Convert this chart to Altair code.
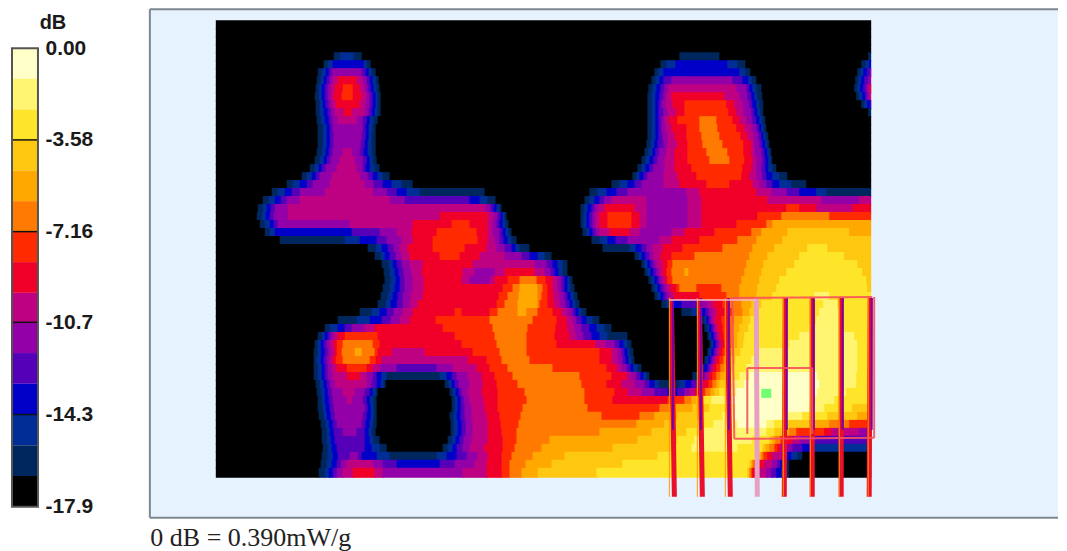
import altair as alt
import pandas as pd

# dB levels (top to bottom)
DB_EDGES = [0, -1.19, -2.39, -3.58, -4.77, -5.97, -7.16, -8.35, -9.55, -10.7, -11.9, -13.1, -14.3, -15.5, -16.7, -17.9]
DB_TICKS = [0, -3.58, -7.16, -10.7, -14.3, -17.9]
LEVELS = list("0123456789abcde")
COLORS = ["#FFFFC8", "#FFF570", "#FFE52A", "#FFC810", "#FFA800", "#FF7A00", "#FF2A00", "#F00028",
          "#BE0082", "#9400A8", "#5500B8", "#0000C8", "#002E96", "#00265E", "#000000"]

# One string per 8-unit-tall band of the scan: level + the x where this level ends
ROW_TOP = 20
ROW_STEP = 8
ROW_START_X = 216
ROW_END_X = 872
ROWS = [
"e872", "e872", "e872", "e872",
"e334 d340 c354 d362 e680 d720 e869 d872",
"e324 d328 c333 b364 c367 d371 e661 d667 c676 b728 c738 d746 e862 d866 c870 b872",
"e318 d322 c326 b329 a332 9362 a366 b369 c372 d376 e655 d659 c664 b740 c746 d751 e858 d861 c864 b868 a871 9872",
"e317 d321 c324 b327 a330 9333 8338 7357 8363 9367 a370 b373 c376 d379 e652 d656 c660 b664 a672 9733 a743 b749 c753 d757 e856 d859 c862 b865 a869 9872",
"e316 d319 c322 b325 a328 9331 8335 7343 6353 7360 8365 9368 a371 b374 c377 d380 e649 d653 c657 b661 a665 9669 8737 9747 a750 b753 c757 d762 e855 d858 c861 b864 a867 9869 8871 7872",
"e315 d319 c322 b325 a328 9331 8334 7342 6353 7362 8367 9370 a373 b376 c378 d381 e648 d652 c656 b660 a664 9667 8672 7725 8740 9748 a752 b755 c758 d763 e857 d860 c863 b866 a868 9870 8872",
"e316 d320 c323 b326 a329 9332 8336 7360 8366 9370 a373 b376 c378 d381 e648 d652 c656 b659 a662 9666 8673 7685 6727 7735 8743 9750 a753 b757 c760 d764 e862 d865 c868 b871 a872",
"e316 d320 c324 b328 a331 9335 8344 7352 8365 9369 a372 b375 c378 d381 e648 d652 c656 b659 a664 9668 8676 7685 6729 7737 8744 9752 a755 b758 c761 d764 e869 d872",
"e317 d321 c325 b329 a332 9338 8357 9363 a367 b370 c374 d378 e648 d652 c656 b659 a662 9665 8670 7678 6700 5717 6733 7740 8747 9753 a757 b760 c763 d766",
"e318 d323 c327 b330 a333 9363 a366 b369 c373 d376 e648 d652 c656 b659 a662 9666 8672 7687 6700 5718 6737 7745 8752 9757 a760 b762 c764 d767",
"e318 d323 c327 b330 a334 9362 a366 b369 c372 d376 e648 d652 c656 b659 a663 9668 8675 7687 6702 5720 6741 7748 8754 9759 a762 b764 c766 d769",
"e318 d323 c327 b330 a334 9361 a365 b368 c372 d376 e647 d651 c655 b658 a664 9668 8678 7688 6703 5723 6744 7752 8755 9760 a763 b766 c768 d770",
"e317 d322 c326 b329 a333 9343 8352 9360 a364 b368 c372 d376 e645 d649 c653 b656 a660 9667 8675 7688 6707 5728 6744 7752 8755 9762 a765 b768 c770 d772",
"e315 d320 c324 b327 a331 9340 8355 9363 a367 b370 c373 d377 e642 d646 c650 b654 a658 9665 8675 7688 6710 5730 6745 7753 8757 9763 a766 b769 c771 d773",
"e310 d315 c319 b322 a326 9337 8357 9363 a366 b370 c375 d380 e638 d642 c646 b650 a654 9665 8675 7692 6743 7752 8757 9762 a766 b769 c773 d777",
"e302 d307 c312 b316 a320 9332 8360 9368 a373 b378 c383 d390 e633 d637 c640 b644 a648 9664 8678 7697 6742 7750 8757 9763 a767 b773 c780 d788",
"e287 d293 c300 b307 a313 9330 8365 9374 a383 b392 c402 d413 e612 d620 c628 b635 a642 9664 8680 7707 6730 7753 8760 9767 a773 b780 c792 d807",
"e272 d278 c285 b292 a300 9325 8373 9387 a397 b407 c420 d485 e590 d598 c607 b617 a628 9687 8700 7757 8772 9787 a800 b817 c827 d872",
"e263 d269 c275 b281 a287 9300 8390 9405 a470 b480 c488 d496 e585 d590 c595 b600 a605 9612 8647 9688 8702 7768 8822 9860 8872",
"e258 d263 c267 b271 a275 9288 8486 9491 a494 b497 c500 d502 e581 d585 c588 b592 a595 9599 8605 7635 8647 9688 8702 7787 6800 7817 8853 7872",
"e257 d262 c266 b270 a274 9288 8440 7488 8494 9498 a501 b503 c505 d507 e581 d584 c587 b590 a593 9596 8600 7608 6632 7640 8647 9688 8702 7758 6782 5830 6872",
"e260 d265 c270 b274 a278 9350 8413 7452 6470 7488 8493 9497 a500 b503 c506 d509 e581 d584 c587 b590 a593 9596 8600 7608 6632 7640 8647 9688 8702 7737 6767 5773 4872",
"e265 d270 c275 b352 a380 9397 8412 7437 6477 7488 8493 9500 a503 b506 c509 d512 e583 d587 c590 b593 a596 9600 8610 7630 8640 9672 8685 7715 6752 5762 4788 3850 4872",
"e280 d345 c360 b377 a387 9402 8413 7433 6478 7488 8495 9500 a504 b508 c512 d517 e592 d600 c608 b616 a628 9660 8672 7700 6738 5757 4783 3872",
"e368 d376 c382 b388 a394 9400 8408 7433 6465 7487 8497 9505 a512 b516 c520 d530 e603 d630 c636 b642 a647 9653 8663 7683 6723 5753 4775 3808 2828 3872",
"e375 d381 c385 b390 a396 9402 8410 7440 6460 7480 8505 9522 a530 b538 c545 d552 e635 d639 c642 b646 a650 9654 8661 7672 6695 5750 4768 3800 2845 3872",
"e382 d389 c393 b397 a402 9410 8423 7473 8535 9547 a553 b558 c563 d568 e642 d645 c648 b651 a654 9657 8663 7668 6673 5747 4764 3795 2858 3872",
"e384 d390 c395 b399 a404 9412 8422 7463 8475 9495 8505 7535 8545 9551 a555 b559 c563 d568 e645 d648 c651 b654 a657 9660 8663 7667 6672 5685 4689 5745 4762 3787 2863 3872",
"e385 d391 c396 b400 a405 9413 8424 7462 8470 9490 8495 7508 6520 5537 6546 7553 8558 9562 a565 b568 c570 d573 e649 d652 c655 b658 a660 9663 8666 7668 6673 5742 4760 3780 2867 3872",
"e383 d390 c395 b400 a405 9413 8424 7503 6513 5520 4538 5543 6548 7553 8558 9562 a565 b568 c571 d575 e652 d655 c658 b661 a664 9667 8671 7677 6680 5697 6722 5740 4758 3777 2868 3872",
"e381 d388 c393 b398 a403 9411 8423 7499 6508 5519 4538 5542 6548 7554 8560 9565 a568 b571 c574 d578 e655 d658 c661 b664 a667 9670 8674 7700 6727 5740 4757 3773 2815 1830 2872",
"e378 d386 c391 b397 a403 9410 8418 7497 6505 5518 4538 5540 6548 7555 8561 9566 a570 b573 c576 d580 e662 d667 c672 b682 a700 9708 8714 7723 6730 5742 4752 3762 2824 1838 2872",
"e360 d372 c380 b387 a394 9403 8413 7455 6462 7490 6498 5518 4527 5538 6553 7562 8568 9573 a576 b579 c582 d587 e682 d692 c701 b706 a709 9713 8717 7725 6733 5743 4750 3758 2820 1840 2872",
"e338 d357 c370 b382 a391 9400 8410 7436 6490 5533 6557 7567 8573 9577 a582 b587 c593 d600 e702 d705 c707 b709 a711 9713 8716 7722 6727 5735 4743 3751 2817 1842 2872",
"e325 d330 c338 b345 a352 9365 8375 7443 6493 5528 6556 7568 8575 9582 a590 b597 c605 d612 e705 d708 c710 b712 a714 9716 8718 7723 6727 5733 4740 3749 2810 1845 2872",
"e318 d322 c325 b328 a331 9334 8338 7345 6378 7455 6495 5527 6555 7570 8577 9584 a592 b600 c608 d628 e708 d710 c712 b714 a716 9718 8720 7724 6728 5733 4738 3745 2800 1855 2872",
"e315 d318 c321 b324 a327 9330 8334 7337 6343 5373 6380 7462 6497 5527 6557 7596 8606 9615 a620 b624 c628 d632 e710 d712 c714 b716 a718 9720 8722 7725 6729 5733 4738 3744 2790 1858 2872",
"e314 d318 c321 b325 a328 9331 8335 7337 6342 5355 4362 5375 6378 7392 8425 7473 6500 5527 6600 7612 8618 9622 a625 b628 c630 d634 e708 d710 c712 b714 a716 9718 8720 7723 6727 5731 4735 3741 2757 1858 2872",
"e314 d317 c321 b324 a327 9330 8333 7336 6343 5370 6376 7382 8468 7487 6502 5530 6600 7612 8618 9623 a626 b629 c632 d635 e705 d707 c709 b711 a713 9715 8717 7720 6724 5728 4731 3736 2752 1858 2872",
"e314 d318 c322 b325 a328 9332 8337 7347 6367 7373 8380 9397 a437 9453 8477 7490 6508 5553 6607 7617 8622 9627 a631 b634 c638 d642 e698 d702 c705 b708 a710 9712 8714 7717 6721 5725 4728 3733 2747 1858 2872",
"e314 d318 c322 b325 a328 9333 8347 7360 8367 9373 a377 b382 c387 d440 c447 b452 a457 9468 8482 7495 6513 5580 6612 7627 8632 9637 a641 b644 c647 d650 e693 d697 c700 b703 a705 9707 8710 7713 6717 5721 4725 3729 2740 1750 0818 1857 2872",
"e316 d320 c324 b327 a330 9335 8367 9372 a377 b381 c384 d386 e445 d449 c452 b455 a459 9470 8483 7497 6518 5582 6607 7622 8635 9645 a650 b655 c660 d680 c686 b692 a697 9701 8705 7709 6713 5717 4720 3725 2733 1745 0820 1857 2872",
"e317 d321 c325 b328 a332 9343 8355 9365 a370 b373 c376 d378 e450 d453 c456 b459 a462 9468 8482 7498 6525 5585 6615 7628 8642 9655 a668 b678 a685 9690 8696 7701 6706 5711 4715 3720 2726 1737 0818 1847 2872",
"e318 d322 c325 b329 a333 9347 8352 9363 a367 b370 c374 d377 e452 d455 c458 b461 a464 9470 8484 7498 6527 5585 6613 7668 6685 5692 4697 3703 2712 1733 0813 1835 2872",
"e318 d323 c326 b330 a334 9365 a368 b371 c374 d377 e452 d455 c458 b461 a465 9472 8485 7498 6523 5588 6660 5675 4693 3710 2727 1736 0810 1825 2853 3872",
"e319 d324 c327 b331 a335 9363 a367 b371 c374 d377 e450 d454 c457 b461 a465 9472 8487 7500 6521 5602 6640 5655 4678 3702 2723 1735 0787 1803 2828 3858 4872",
"e321 d326 c329 b333 a337 9362 a366 b370 c373 d377 e451 d454 c458 b462 a466 9473 8488 7501 6519 5637 4665 3697 2714 1738 0767 1775 2788 3810 4830 5850 6872",
"e322 d327 c330 b334 a343 9357 a365 b369 c372 d376 e451 d454 c458 b462 a466 9473 8488 7502 6517 5600 4652 3687 2700 1767 2775 3785 4790 5797 6825 7832 8860 9872",
"e322 d327 c331 b335 a365 b370 c374 d380 e448 d452 c456 b460 a464 9472 8488 7503 6517 5550 4638 3678 2695 1753 2770 3773 4776 5781 6788 7793 8800 9810 a872",
"e323 d328 c332 b337 a365 b372 c380 d387 e443 d448 c453 b457 a463 9470 8485 7503 6515 5542 4613 3672 2692 1738 2763 3766 4770 5775 6778 7781 8785 9793 a803 b812 c872",
"e322 d328 c333 b338 a350 9358 a362 b377 c390 d437 c447 b457 a467 9478 8488 7502 6512 5533 4565 3658 2757 3760 4762 5764 6768 7773 8782 9785 a788 b792 c798 d803 e872",
"e321 d327 c332 b337 a341 9347 8373 9383 a397 b440 a455 9475 8487 7502 6510 5526 4552 3623 2750 3752 4753 5755 6758 7765 8773 9778 a781 b784 c787 d790 e872",
"e319 d325 c329 b333 a337 9343 8353 7375 8383 9463 8487 7502 6510 5522 4538 3597 2748 3750 5752 6753 7760 8767 9772 a777 b782 c786 d790 e872",
]
SCAN_BOTTOM = 478
SEAM_OVERLAP = 1

# Probe rods seen over the scan
ROD_TOP_X = [672, 700, 728, 757, 786, 813, 842, 871]
ROD_BOT_X = [675, 703, 731, 758, 785, 813, 842, 870]
ROD_COLOR = ["#E8102A", "#E8102A", "#E8102A", "#E8A0C0", "#E8102A", "#E8102A", "#E8102A", "#E8102A"]
ROD_TOP_Y = 298
ROD_BOT_Y = 497
ROD_SHADE_BOT_Y = 430

# Zoom-scan box edges (x, y, x2, y2)
BOX_X = [732, 875, 735, 733, 748, 748, 813]
BOX_Y = [298, 297, 439, 298, 368, 368, 368]
BOX_X2 = [873, 875, 875, 735, 813, 748, 813]
BOX_Y2 = [297, 438, 438, 439, 368, 434, 434]
FAINT_X = [670]
FAINT_Y = [300]
FAINT_X2 = [757]
FAINT_Y2 = [300]
PEAK_X, PEAK_X2, PEAK_Y, PEAK_Y2 = [762], [772], [389], [398]

# Panel extent and frame
PANEL_LEFT, PANEL_RIGHT, PANEL_TOP, PANEL_BOTTOM = 150, 1059, 9, 518

records = []
for j, row in enumerate(ROWS):
    start = ROW_START_X
    top = ROW_TOP + j * ROW_STEP
    last_row = j == len(ROWS) - 1
    bottom = SCAN_BOTTOM if last_row else top + ROW_STEP + SEAM_OVERLAP
    ends = [int(t[1:]) for t in row.split()]
    levels = [t[0] for t in row.split()]
    if ends[-1] < ROW_END_X:
        ends.append(ROW_END_X)
        levels.append("e")
    for end, lev in zip(ends, levels):
        x2 = end if end >= ROW_END_X else end + SEAM_OVERLAP
        records.append({"x": start, "x2": x2, "y": top, "y2": bottom, "level": lev})
        start = end
scan = pd.DataFrame(records)

rods = pd.DataFrame({"x": ROD_TOP_X, "x2": ROD_BOT_X, "c": ROD_COLOR, "y": ROD_TOP_Y, "y2": ROD_BOT_Y})
shade = rods[rods.c == "#E8102A"].copy()
shade_x = [v + 1.5 for v in shade.x]
shade["x"] = shade_x
shade["x2"] = shade_x
shade["y2"] = ROD_SHADE_BOT_Y
hilite = rods[rods.c == "#E8102A"].copy()
hilite_x = [v - 2 for v in hilite.x]
hilite["x"] = hilite_x
hilite["x2"] = hilite_x
box = pd.DataFrame({"x": BOX_X, "x2": BOX_X2, "y": BOX_Y, "y2": BOX_Y2})
faint = pd.DataFrame({"x": FAINT_X, "x2": FAINT_X2, "y": FAINT_Y, "y2": FAINT_Y2})
peak = pd.DataFrame({"x": PEAK_X, "x2": PEAK_X2, "y": PEAK_Y, "y2": PEAK_Y2})
frame = pd.DataFrame({"x": [PANEL_LEFT, PANEL_LEFT, PANEL_LEFT], "x2": [PANEL_LEFT, PANEL_RIGHT, PANEL_RIGHT],
                      "y": [PANEL_TOP, PANEL_TOP, PANEL_BOTTOM], "y2": [PANEL_BOTTOM, PANEL_TOP, PANEL_BOTTOM]})

xs = alt.Scale(domain=[PANEL_LEFT, PANEL_RIGHT], nice=False, zero=False)
ys = alt.Scale(domain=[PANEL_BOTTOM, PANEL_TOP], nice=False, zero=False)
color = alt.Color("level:N", scale=alt.Scale(domain=LEVELS, range=COLORS), legend=None)

X = alt.X("x:Q", scale=xs, axis=alt.Axis(title="0 dB = 0.390mW/g", domain=False, ticks=False, labels=False, grid=False,
                                         titleFont="Liberation Serif", titleFontSize=26, titleFontWeight="normal",
                                         titleColor="#222222", titleAnchor="start", titleAlign="left", titlePadding=7))
Y = alt.Y("y:Q", scale=ys, axis=None)

heat = alt.Chart(scan).mark_rect().encode(X, alt.X2("x2:Q"), Y, alt.Y2("y2:Q"), color=color)
segs = dict(x=alt.X("x:Q", scale=xs), x2="x2:Q", y=alt.Y("y:Q", scale=ys), y2="y2:Q")
rod_layer = alt.Chart(rods).mark_rule(strokeWidth=5).encode(color=alt.Color("c:N", scale=None), **segs)
shade_layer = alt.Chart(shade).mark_rule(strokeWidth=2, color="#7A00A0").encode(**segs)
hilite_layer = alt.Chart(hilite).mark_rule(strokeWidth=1, color="#FF9A00").encode(**segs)
box_layer = alt.Chart(box).mark_rule(strokeWidth=2, color="#F8505E", opacity=0.9).encode(**segs)
faint_layer = alt.Chart(faint).mark_rule(strokeWidth=1.5, color="#F8B8C8").encode(**segs)
peak_layer = alt.Chart(peak).mark_rect(color="#70FF70").encode(**segs)
frame_layer = alt.Chart(frame).mark_rule(strokeWidth=2, color="#7E878F").encode(**segs)

panel = alt.layer(heat, rod_layer, shade_layer, hilite_layer, box_layer, faint_layer, peak_layer, frame_layer).properties(
    width=PANEL_RIGHT - PANEL_LEFT, height=PANEL_BOTTOM - PANEL_TOP,
    view=alt.ViewBackground(fill="#E6F3FF", stroke=None),
)

# colour bar
bar = pd.DataFrame({"hi": DB_EDGES[:-1], "lo": DB_EDGES[1:], "level": LEVELS})
tick_df = pd.DataFrame({"v": DB_TICKS})
inner_df = tick_df[(tick_df.v != 0) & (tick_df.v != -17.9)]
cs = alt.Scale(domain=[-18.33, 1.52], nice=False, zero=False)
CB_LABEL = "datum.value == 0 ? '0.00' : '' + datum.value"
bar_rects = alt.Chart(bar).mark_rect().encode(
    x=alt.value(0), x2=alt.value(26),
    y=alt.Y("hi:Q", scale=cs, axis=alt.Axis(orient="right", title=None, values=DB_TICKS, labelExpr=CB_LABEL, domain=False,
                                            grid=False, ticks=False, labelPadding=7, labelOverlap=False,
                                            labelFont="Liberation Sans", labelFontWeight="bold", labelFontSize=21,
                                            labelColor="#1a1a1a", labelFlush=False)),
    y2="lo:Q", color=alt.Color("level:N", scale=alt.Scale(domain=LEVELS, range=COLORS), legend=None))
bar_lines = alt.Chart(inner_df).mark_rule(color="#111111", strokeWidth=1.5).encode(
    x=alt.value(0), x2=alt.value(26), y=alt.Y("v:Q", scale=cs))
bar_frame = alt.Chart(pd.DataFrame({"hi": [DB_TICKS[0]], "lo": [DB_TICKS[-1]]})).mark_rect(
    fillOpacity=0, stroke="#555555", strokeWidth=2).encode(
    x=alt.value(0), x2=alt.value(26), y=alt.Y("hi:Q", scale=cs), y2="lo:Q")
bar_title = alt.Chart(pd.DataFrame({"t": ["dB"], "v": [0.97]})).mark_text(
    font="Liberation Sans", fontWeight="bold", fontSize=20, color="#1a1a1a", align="center", baseline="middle").encode(
    x=alt.value(41), y=alt.Y("v:Q", scale=cs), text="t:N")
colorbar = alt.layer(bar_rects, bar_lines, bar_frame, bar_title).properties(
    width=26, height=PANEL_BOTTOM - PANEL_TOP, view=alt.ViewBackground(stroke=None))

chart = alt.hconcat(colorbar, panel, spacing=56).resolve_scale(color="independent", x="independent", y="independent").properties(
    padding={"left": 3, "top": 0, "right": 0, "bottom": 0}).configure(background="white")

chart.save("out.html", embed_options={"renderer": "svg", "actions": False})
